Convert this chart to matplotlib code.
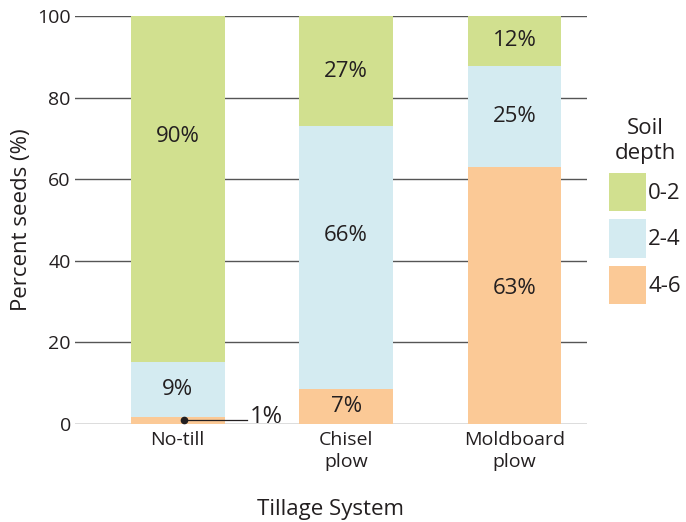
import matplotlib
matplotlib.use("Agg")
import matplotlib.pyplot as plt
from matplotlib.patches import Patch

# Tillage systems and soil depth classes
systems = ["No-till", "Chisel\nplow", "Moldboard\nplow"]
depths = ["0-2", "2-4", "4-6"]

# segment heights as drawn in the figure (percent of seeds)
depth_46 = [1.7, 8.6, 63.1]
depth_24 = [13.6, 64.4, 24.7]
depth_02 = [84.7, 27.0, 12.2]

# printed labels
lbl_46 = ["1%", "7%", "63%"]
lbl_24 = ["9%", "66%", "25%"]
lbl_02 = ["90%", "27%", "12%"]

_INK = "#231f20"
_GRID = "#555555"
_GREEN = "#d1e08f"
_BLUE = "#d4ebf1"
_ORANGE = "#fbc996"
_FS = 16

plt.rcParams["font.family"] = ["Open Sans", "DejaVu Sans"]

fig = plt.figure(figsize=(6.86, 5.22), dpi=100)
ax = fig.add_axes([0.1093, 0.1877, 0.7464, 0.7816])

x = list(range(len(systems)))
w = 0.556
ax.bar(x, depth_46, width=w, color=_ORANGE, zorder=3)
ax.bar(x, depth_24, width=w, bottom=depth_46, color=_BLUE, zorder=3)
bot02 = [a + b for a, b in zip(depth_46, depth_24)]
ax.bar(x, depth_02, width=w, bottom=bot02, color=_GREEN, zorder=3)

# label y positions (mostly mid-segment, a few nudged as in the original)
for i in x:
    y46 = depth_46[i] / 2
    y24 = depth_46[i] + depth_24[i] / 2
    y02 = bot02[i] + depth_02[i] / 2
    if i == 0:
        y02 = 70.4
    if i == 1:
        y24 = 46.3
    if i == 2:
        y46 = 33.3
    if i != 0:
        ax.text(i, y46, lbl_46[i], ha="center", va="center", fontsize=_FS, color=_INK, zorder=4)
    ax.text(i, y24, lbl_24[i], ha="center", va="center", fontsize=_FS, color=_INK, zorder=4)
    ax.text(i, y02, lbl_02[i], ha="center", va="center", fontsize=_FS, color=_INK, zorder=4)

# callout for the thin 1% segment: dot, horizontal leader, label
ax.plot([0.04, 0.414], [1.0, 1.0], color=_INK, lw=0.9, zorder=5)
ax.plot([0.04], [1.0], marker="o", ms=4.5, color=_INK, zorder=5)
ax.text(0.426, 1.7, lbl_46[0], fontsize=17, color=_INK, va="center", ha="left", zorder=5)

ax.set_xlim(-0.61, 2.43)
ax.set_ylim(0, 100)
ax.set_yticks([0, 20, 40, 60, 80, 100])
ax.set_xticks(x)
ax.set_xticklabels(systems, linespacing=1.3)
ax.yaxis.grid(True, color=_GRID, lw=1.0, zorder=0)
ax.set_axisbelow(True)
for s in ax.spines.values():
    s.set_visible(False)
ax.tick_params(axis="both", length=0, labelsize=14, colors=_INK)
ax.tick_params(axis="y", pad=3)
ax.tick_params(axis="x", pad=5)
ax.set_ylabel("Percent seeds (%)", fontsize=16, color=_INK, labelpad=4)
ax.set_xlabel("Tillage System", fontsize=16, color=_INK, labelpad=20)

handles = [Patch(facecolor=c, edgecolor="none", label=d)
           for c, d in zip([_GREEN, _BLUE, _ORANGE], depths)]
leg = fig.legend(handles=handles, title="Soil\ndepth", loc="upper left",
                 bbox_to_anchor=(0.8878, 0.773), frameon=False, fontsize=_FS,
                 title_fontsize=_FS, handlelength=1.67, handleheight=2.255,
                 labelspacing=0.4, handletextpad=0.1, borderpad=0, borderaxespad=0)
leg.get_title().set_color(_INK)
leg.get_title().set_multialignment("center")
for t in leg.get_texts():
    t.set_color(_INK)

fig.savefig("out.png", dpi=100)
